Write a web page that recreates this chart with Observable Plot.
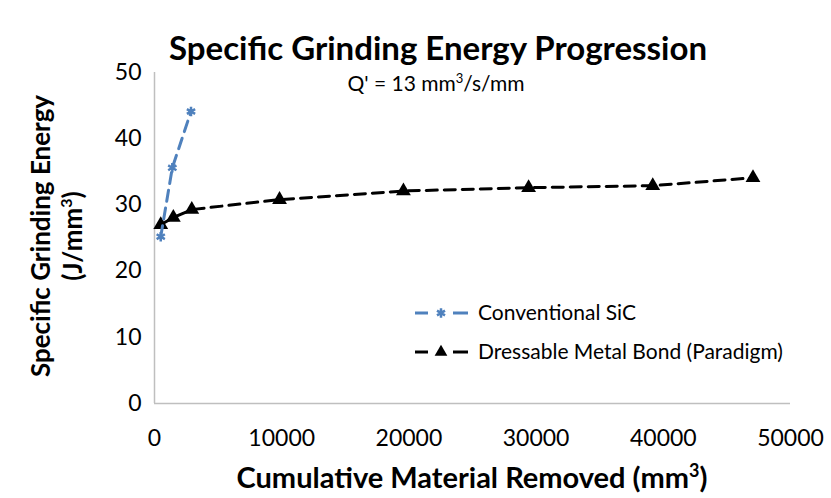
<!DOCTYPE html>
<html>
<head>
<meta charset="utf-8">
<script src="https://cdn.jsdelivr.net/npm/d3@7"></script>
<script src="https://cdn.jsdelivr.net/npm/@observablehq/plot@0.6"></script>
<style>
  html, body { margin: 0; padding: 0; background: #fff; }
  #wrap { position: relative; width: 831px; height: 498px; font-family: Lato, "Open Sans", sans-serif; color: #000; overflow: hidden; }
  .abs { position: absolute; white-space: nowrap; }
  #title { left: 0; width: 876px; top: 27px; line-height: 40px; text-align: center; font-weight: bold; font-size: 33px; }
  #sub { left: 0; width: 872px; top: 70px; line-height: 26px; text-align: center; font-size: 21px; }
  #ytitle { left: 56px; top: 236px; transform: translate(-50%, -50%) rotate(-90deg); text-align: center; font-weight: bold; font-size: 26px; line-height: 32px; }
  #xtitle { left: 0; width: 944px; top: 459px; line-height: 36px; text-align: center; font-weight: bold; font-size: 29px; }
  #legend { left: 410px; top: 298px; }
  sup { line-height: 0; }
</style>
</head>
<body>
<div id="wrap">
  <div id="chart"></div>
  <div id="title" class="abs">Specific Grinding Energy Progression</div>
  <div id="sub" class="abs">Q' = 13 mm<sup style="font-size:13px">3</sup>/s/mm</div>
  <div id="ytitle" class="abs">Specific Grinding Energy<br>(J/mm<sup style="font-size:16px">3</sup>)</div>
  <div id="xtitle" class="abs">Cumulative Material Removed (mm<sup style="font-size:18px">3</sup>)</div>
  <div id="legend" class="abs"></div>
</div>
<script>
// Data
const seriesNames = ["Conventional SiC", "Dressable Metal Bond (Paradigm)"];
const sicX = [490, 1400, 2870];
const sicY = [25.2, 35.6, 44.1];
const metalX = [490, 1480, 2930, 9830, 19570, 29410, 39170, 47050];
const metalY = [27.0, 28.1, 29.3, 30.8, 32.1, 32.6, 32.9, 34.1];
const xTicks = [0, 10000, 20000, 30000, 40000, 50000];
const yTicks = [0, 10, 20, 30, 40, 50];
const colors = ["#4f81bd", "#000000"];

const sic = sicX.map((x, i) => ({x, y: sicY[i]}));
const metal = metalX.map((x, i) => ({x, y: metalY[i]}));

const plot = Plot.plot({
  width: 831,
  height: 498,
  marginLeft: 154,
  marginRight: 41,
  marginTop: 72,
  marginBottom: 95,
  style: {fontFamily: "Lato, 'Open Sans', sans-serif", background: "transparent", color: "#000"},
  x: {domain: [0, 50000]},
  y: {domain: [0, 50]},
  marks: [
    Plot.axisX({ticks: xTicks, tickSize: 0, tickPadding: 26, fontSize: 23, label: null, tickFormat: d => String(d)}),
    Plot.axisY({ticks: yTicks, tickSize: 0, tickPadding: 13, fontSize: 23, label: null}),
    Plot.ruleY([0], {stroke: "#bfbfbf", strokeWidth: 1.5}),
    Plot.ruleX([0], {stroke: "#bfbfbf", strokeWidth: 1.5}),
    Plot.line(metal, {x: "x", y: "y", stroke: colors[1], strokeWidth: 3, strokeDasharray: "11,7"}),
    Plot.dot(metal, {x: "x", y: "y", symbol: "triangle", fill: colors[1], r: 5.5}),
    Plot.line(sic, {x: "x", y: "y", stroke: colors[0], strokeWidth: 3, strokeDasharray: "11,7"}),
    Plot.dot(sic, {x: "x", y: "y", symbol: "asterisk", stroke: colors[0], strokeWidth: 2.5, r: 4.5})
  ]
});
document.getElementById("chart").appendChild(plot);

// Legend
const leg = d3.select("#legend").append("svg").attr("width", 420).attr("height", 75);
const syms = [d3.symbolAsterisk, d3.symbolTriangle];
seriesNames.forEach((name, i) => {
  const g = leg.append("g").attr("transform", `translate(0,${15 + i * 39})`);
  g.append("line").attr("x1", 5).attr("x2", 18).attr("y1", 0).attr("y2", 0).attr("stroke", colors[i]).attr("stroke-width", 3);
  g.append("line").attr("x1", 43).attr("x2", 58).attr("y1", 0).attr("y2", 0).attr("stroke", colors[i]).attr("stroke-width", 3);
  const p = g.append("path").attr("transform", "translate(31,0)").attr("d", d3.symbol(syms[i], i === 0 ? 60 : 70)());
  if (i === 0) p.attr("stroke", colors[i]).attr("stroke-width", 2.5).attr("fill", "none");
  else p.attr("fill", colors[i]);
  g.append("text").attr("x", 68).attr("y", 0).attr("dy", "0.35em").attr("font-size", 21).attr("font-family", "Lato, 'Open Sans', sans-serif").text(name);
});
</script>
</body>
</html>
